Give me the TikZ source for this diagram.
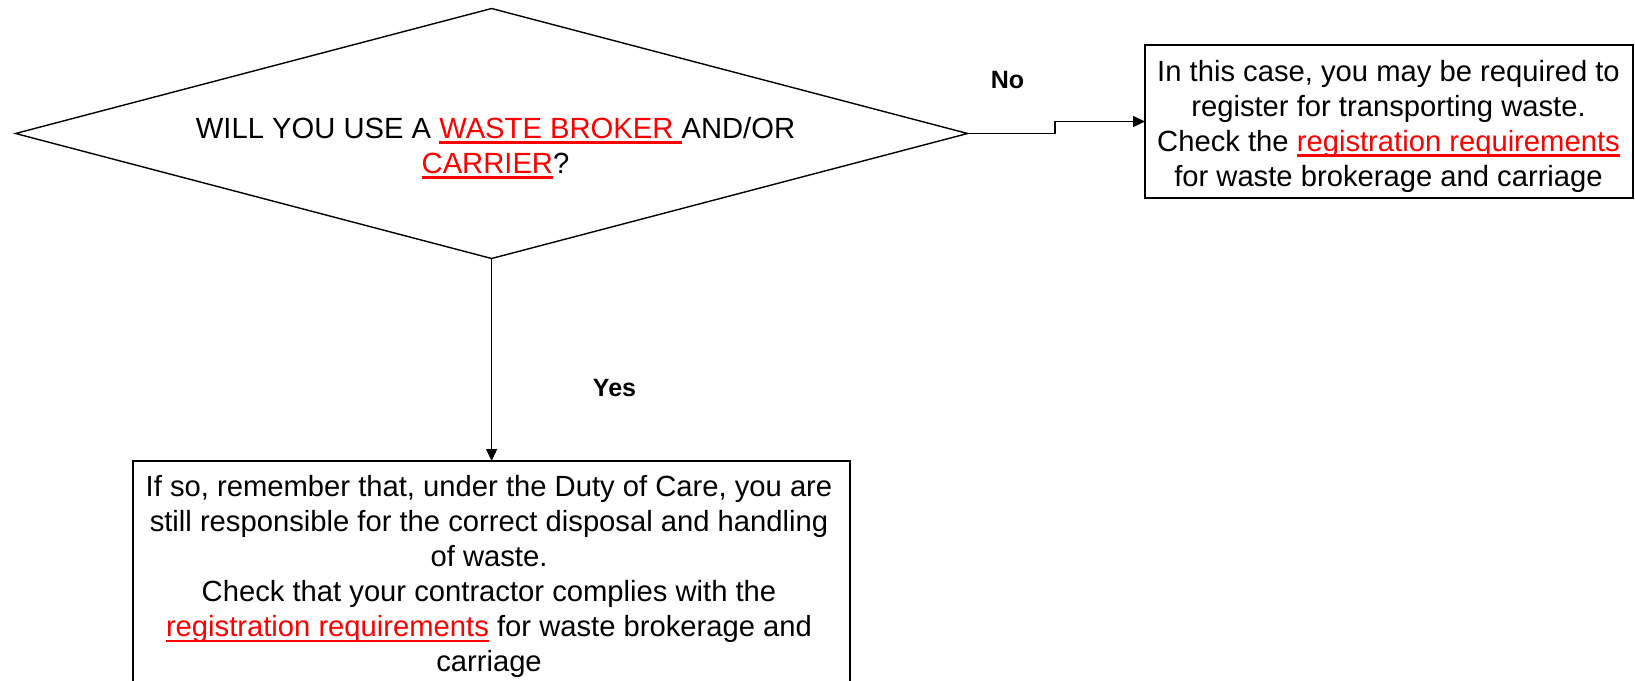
\documentclass[tikz,border=0pt]{standalone}
\usepackage{fontspec}
\setmainfont{Liberation Sans}
\usetikzlibrary{shapes.geometric,arrows.meta}
\definecolor{linkred}{RGB}{255,0,0}
% red hyperlink-style text with a thick underline
\newcommand\linktext[1]{{\color{linkred}\setbox0\hbox{#1}\rlap{\rule[-5.5pt]{\wd0}{2.2pt}}\box0}}
\begin{document}
\begin{tikzpicture}[x=1pt,y=-1pt,
  line width=1.4pt,
  frame/.style={draw, rectangle, inner sep=0pt, outer sep=0pt, anchor=north west},
  decision/.style={draw, diamond, inner sep=0pt, outer sep=0pt},
  flow/.style={-{Triangle[length=12pt,width=11pt]}},
  label/.style={font={\fontsize{25}{30}\selectfont\bfseries}, anchor=base},
  txt/.style={align=center, inner sep=0pt, font={\fontsize{29.2}{35}\selectfont}}]
\useasboundingbox (0,0) rectangle (1635,680);

% decision diamond and its question
\node[decision, minimum width=952pt, minimum height=250pt] (d) at (491.6,133.5) {};
\node[txt] (q) at (495.5,147.8)
  {WILL YOU USE A \linktext{WASTE BROKER }AND/OR\\ \linktext{CARRIER}?};

% outcome boxes
\node[frame, minimum width=488pt, minimum height=153pt] (r) at (1145,45) {};
\node[txt] (rt) at (1388.5,126)
  {In this case, you may be required to\\ register for transporting waste.\\
   Check the \linktext{registration requirements}\\ for waste brokerage and carriage};

\node[frame, minimum width=717pt, minimum height=223pt] (b) at (133,461) {};
\node[txt] (bt) at (489,576.7)
  {If so, remember that, under the Duty of Care, you are\\
   still responsible for the correct disposal and handling\\
   of waste.\\
   Check that your contractor complies with the\\
   \linktext{registration requirements} for waste brokerage and\\
   carriage};

% connectors
\coordinate (k) at (1055,133.5);
\draw[flow] (d.east) -- (k) |- (r.west);
\draw[flow] (d.south) -- (d.south |- b.north);

\node[label] (no) at (1007.5,88) {No};
\node[label] (yes) at (614.5,396.7) {Yes};
\end{tikzpicture}
\end{document}
